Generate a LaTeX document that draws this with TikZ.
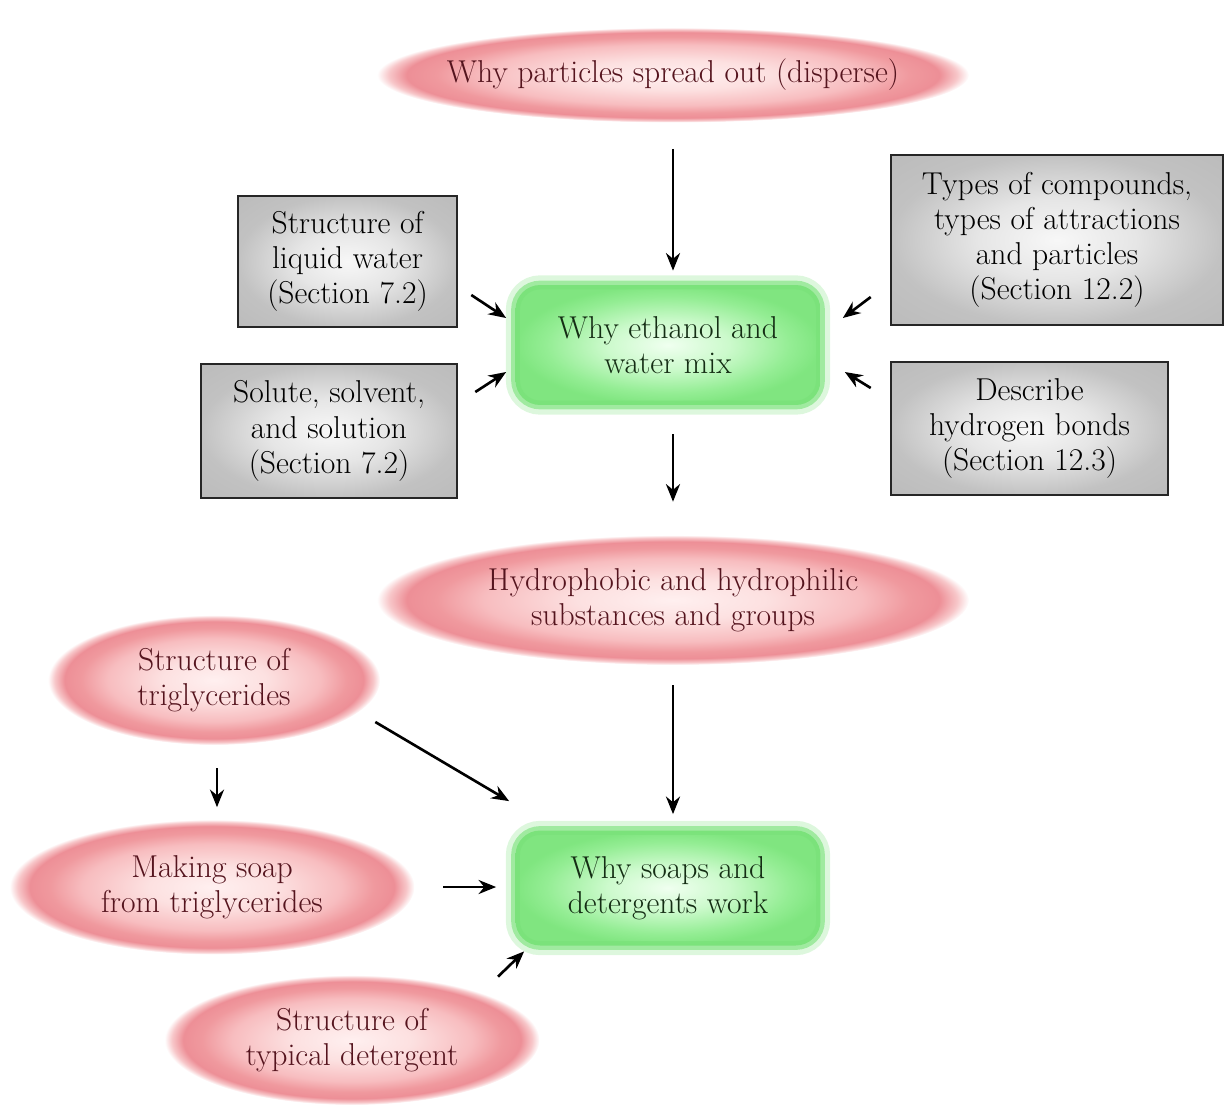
\documentclass[tikz,border=0pt]{standalone}
\usetikzlibrary{shapes.geometric,arrows.meta,calc}
\pgfdeclareradialshading{pinkglow}{\pgfpoint{0bp}{0bp}}{%
  rgb(0bp)=(1,0.94,0.94);
  rgb(8bp)=(0.99,0.88,0.88);
  rgb(16bp)=(0.97,0.74,0.75);
  rgb(20bp)=(0.94,0.60,0.62);
  rgb(22.5bp)=(0.93,0.56,0.59);
  rgb(24bp)=(0.97,0.78,0.79);
  rgb(25bp)=(1,1,1);
  rgb(50bp)=(1,1,1)}
\pgfdeclareradialshading{greenglow}{\pgfpoint{0bp}{0bp}}{%
  rgb(0bp)=(0.94,1,0.94);
  rgb(10bp)=(0.80,0.98,0.80);
  rgb(20bp)=(0.58,0.93,0.58);
  rgb(25bp)=(0.50,0.90,0.50);
  rgb(50bp)=(0.50,0.90,0.50)}
\pgfdeclareradialshading{greyglow}{\pgfpoint{0bp}{0bp}}{%
  rgb(0bp)=(0.97,0.97,0.97);
  rgb(12bp)=(0.90,0.90,0.90);
  rgb(25bp)=(0.76,0.76,0.76);
  rgb(50bp)=(0.70,0.70,0.70)}
\definecolor{redtext}{RGB}{85,20,30}
\definecolor{greentext}{RGB}{20,45,20}
\definecolor{glowgreen}{RGB}{120,225,120}
\tikzset{
  every node/.style={font=\fontsize{18}{20}\selectfont, align=center},
  pinkell/.style={ellipse, shade, shading=pinkglow, inner xsep=-40pt, inner ysep=0pt, text=redtext},
  greenbox/.style={rectangle, rounded corners=14pt, shade, shading=greenglow, inner sep=0pt,
    text=greentext, minimum width=6.1cm,
    preaction={draw=glowgreen, draw opacity=0.25, line width=11pt},
    draw=glowgreen, draw opacity=0.6, line width=5pt},
  greybox/.style={rectangle, shade, shading=greyglow, draw=black!85, line width=1.5pt, inner sep=0pt},
  arr/.style={-{Stealth[length=10pt,width=8pt]}, line width=1.5pt}
}
\begin{document}
\begin{tikzpicture}[x={(0.02cm,0)}, y={(0,-0.02cm)}]
\useasboundingbox (0,0) rectangle (1225,1113);
% nodes
\node[pinkell, minimum width=11.84cm, minimum height=1.9cm] (E1) at (673,75) {Why particles spread out (disperse)};
\node[greenbox, minimum height=2.4cm] (G1) at (668,345) {Why ethanol and\\water mix};
\node[greybox, minimum width=4.38cm, minimum height=2.62cm] (L1) at (347.5,261.5) {Structure of\\liquid water\\(Section 7.2)};
\node[greybox, minimum width=5.12cm, minimum height=2.68cm] (L2) at (329,431) {Solute, solvent,\\and solution\\(Section 7.2)};
\node[greybox, minimum width=6.64cm, minimum height=3.4cm] (R1) at (1057,240) {Types of compounds,\\types of attractions\\and particles\\(Section 12.2)};
\node[greybox, minimum width=5.54cm, minimum height=2.66cm] (R2) at (1029.5,428.5) {Describe\\hydrogen bonds\\(Section 12.3)};
\node[pinkell, minimum width=11.84cm, minimum height=2.6cm] (E2) at (673,600) {Hydrophobic and hydrophilic\\substances and groups};
\node[pinkell, minimum width=6.64cm, minimum height=2.6cm] (E3) at (214,680) {Structure of\\triglycerides};
\node[pinkell, minimum width=8.1cm, minimum height=2.7cm] (E4) at (212,887) {Making soap\\from triglycerides};
\node[pinkell, minimum width=7.5cm, minimum height=2.6cm] (E5) at (352,1040) {Structure of\\typical detergent};
\node[greenbox, minimum height=2.3cm] (G2) at (668,888) {Why soaps and\\detergents work};
% connectors
\draw[arr] ([shift={(0,26)}]E1.south) -- ([shift={(5,-10)}]G1.north);
\draw[arr] ([shift={(13,33.5)}]L1.east) -- ([shift={(-5,-27)}]G1.west);
\draw[arr] ([shift={(17,-39)}]L2.east) -- ([shift={(-5,27)}]G1.west);
\draw[arr] ([shift={(-19,57)}]R1.west) -- ([shift={(18,-27)}]G1.east);
\draw[arr] ([shift={(-19,-40.5)}]R2.west) -- ([shift={(20,27)}]G1.east);
\draw[arr] ([shift={(5,25)}]G1.south) -- ([shift={(0,-33)}]E2.north);
\draw[arr] ([shift={(0,20)}]E2.south) -- ([shift={(5,-12)}]G2.north);
\draw[arr] ([shift={(3,23)}]E3.south) -- ([shift={(5,-12)}]E4.north);
\draw[arr] ([shift={(-5,42)}]E3.east) -- ([shift={(-2,-25)}]G2.north west);
\draw[arr] ([shift={(28.5,0)}]E4.east) -- ([shift={(-15,-1)}]G2.west);
\draw[arr] ([shift={(146,2)}]E5.north) -- ([shift={(13,1.5)}]G2.south west);
\end{tikzpicture}
\end{document}
